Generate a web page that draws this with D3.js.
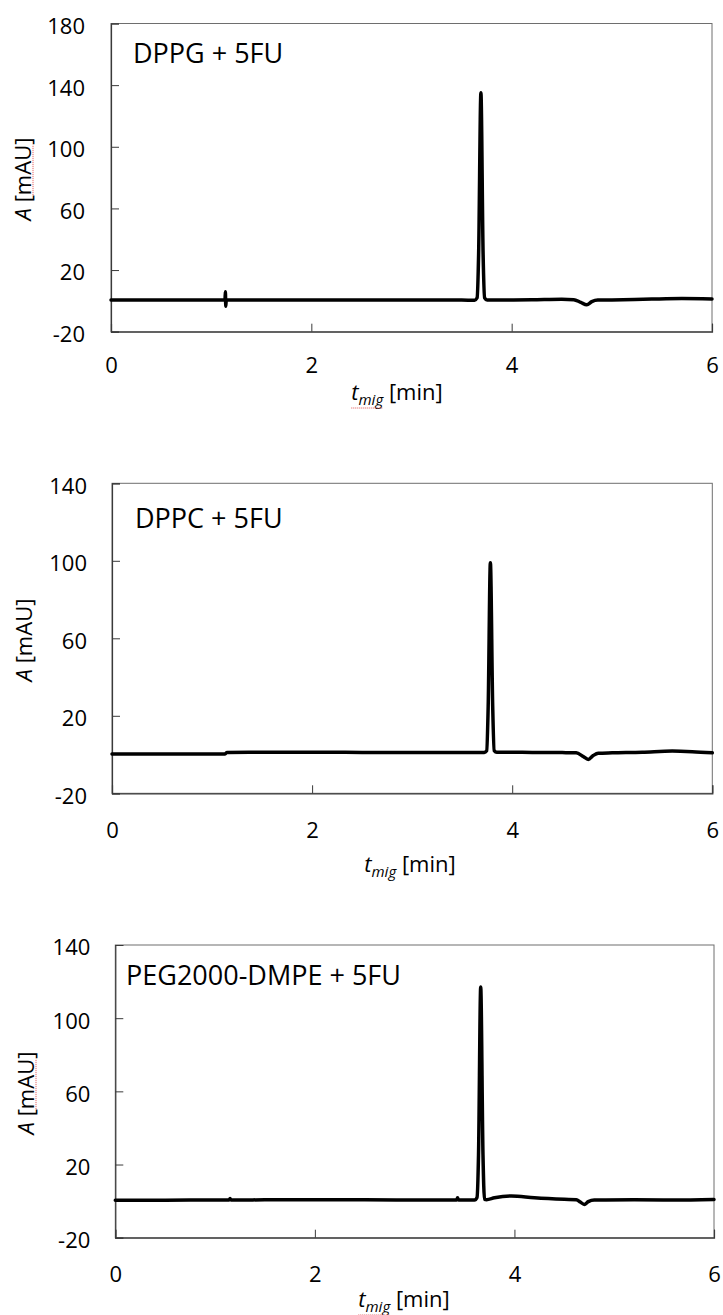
<!DOCTYPE html>
<html>
<head>
<meta charset="utf-8">
<script src="https://cdn.jsdelivr.net/npm/d3@7"></script>
<style>
  body { margin: 0; background: #fff; }
  text { font-family: "Open Sans", Lato, sans-serif; fill: #000; }
</style>
</head>
<body>
<div id="chart"></div>
<script>
// migration time [min] and absorbance [mAU]
var dppgTime = [0, 0.5, 1.0, 1.13, 1.138, 1.142, 1.146, 1.15, 1.5, 2.0, 2.5, 3.0, 3.5, 3.63, 3.655, 3.67, 3.693, 3.715, 3.73, 3.755, 3.9, 4.2, 4.5, 4.62, 4.69, 4.75, 4.8, 4.86, 5.0, 5.4, 5.7, 6.0];
var dppgAbs  = [0.5, 0.5, 0.5, 0.5, 0.5, 6, -3.5, 0.5, 0.6, 0.6, 0.6, 0.5, 0.5, 0.4, 2, 30, 135, 30, 2, 0.6, 0.6, 0.7, 1.0, 0.8, -1, -2.5, -0.5, 0.5, 0.6, 1.2, 1.5, 1.2];

var dppcTime = [0, 0.5, 1.0, 1.13, 1.15, 1.5, 2.0, 2.5, 3.0, 3.5, 3.65, 3.72, 3.745, 3.76, 3.782, 3.805, 3.82, 3.845, 3.9, 4.2, 4.5, 4.64, 4.71, 4.76, 4.81, 4.86, 5.0, 5.3, 5.6, 5.8, 6.0];
var dppcAbs  = [0.3, 0.3, 0.3, 0.3, 1.1, 1.2, 1.2, 1.1, 1.0, 1.0, 1.0, 1.1, 2, 25, 99, 25, 2, 1.2, 1.2, 1.1, 1.0, 0.9, -1, -2.5, -0.5, 0.7, 0.9, 1.2, 1.8, 1.5, 0.9];

var pegTime = [0, 0.5, 1.0, 1.14, 1.15, 1.16, 1.5, 2.0, 2.5, 3.0, 3.42, 3.43, 3.44, 3.55, 3.6, 3.625, 3.64, 3.662, 3.685, 3.70, 3.72, 3.8, 3.97, 4.2, 4.5, 4.62, 4.66, 4.70, 4.74, 4.8, 5.2, 5.6, 6.0];
var pegAbs  = [0.5, 0.5, 0.6, 0.6, 1.4, 0.6, 0.7, 0.7, 0.7, 0.6, 0.6, 1.8, 0.6, 0.6, 0.6, 2, 25, 117, 25, 1, 0.8, 1.8, 2.8, 1.8, 1.0, 0.8, -0.5, -1.8, -0.3, 0.6, 0.7, 0.6, 0.9];

var xTicks = [0, 2, 4, 6];
var yTicksTop = [-20, 20, 60, 100, 140, 180];
var yTicks = [-20, 20, 60, 100, 140];
var labels = ["DPPG + 5FU", "DPPC + 5FU", "PEG2000-DMPE + 5FU"];

var width = 723, height = 1315;

var svg = d3.select("#chart")
            .append("svg")
            .attr("width", width)
            .attr("height", height);

var panels = [
  {time: dppgTime, abs: dppgAbs, yMax: 180, ticks: yTicksTop, label: labels[0],
   left: 111, right: 712, top: 23.5, bottom: 331.7, xPad: 26, yPad: 26,
   labelX: 133, labelY: 63, xTitleX: 397, xTitleY: 400, yTitleX: 31, yTitleY: 179, squiggle: true},
  {time: dppcTime, abs: dppcAbs, yMax: 140, ticks: yTicks, label: labels[1],
   left: 112, right: 712.3, top: 483.3, bottom: 793.3, xPad: 29, yPad: 25,
   labelX: 135, labelY: 528, xTitleX: 410, xTitleY: 872, yTitleX: 32, yTitleY: 640, squiggle: false},
  {time: pegTime, abs: pegAbs, yMax: 140, ticks: yTicks, label: labels[2],
   left: 115.3, right: 714, top: 945, bottom: 1237.7, xPad: 29, yPad: 25,
   labelX: 126, labelY: 985, xTitleX: 404, xTitleY: 1307, yTitleX: 34, yTitleY: 1093, squiggle: true}
];

panels.forEach(drawPanel);

function drawPanel(p) {
  var x = d3.scaleLinear().domain([0, 6]).range([p.left, p.right]);
  var y = d3.scaleLinear().domain([-20, p.yMax]).range([p.bottom, p.top]);
  var g = svg.append("g");

  // plot area border (top/right lighter)
  g.append("rect")
   .attr("x", p.left).attr("y", p.top)
   .attr("width", p.right - p.left).attr("height", p.bottom - p.top)
   .attr("fill", "none").attr("stroke", "#6e6e6e").attr("stroke-width", 1);

  var fmt = function(d) { return String(d); }; // plain hyphen minus like the source
  var xAxis = g.append("g")
     .attr("transform", "translate(0," + p.bottom + ")")
     .call(d3.axisBottom(x).tickValues(xTicks).tickSize(-8).tickPadding(p.xPad).tickFormat(fmt));
  var yAxis = g.append("g")
     .attr("transform", "translate(" + p.left + ",0)")
     .call(d3.axisLeft(y).tickValues(p.ticks).tickSize(-8).tickPadding(p.yPad).tickFormat(fmt));

  [xAxis, yAxis].forEach(function(a) {
    a.select(".domain").attr("stroke", "#3a3a3a").attr("stroke-width", 1.2);
    a.selectAll(".tick line").attr("stroke", "#3a3a3a");
    a.selectAll(".tick text").attr("font-size", 22).attr("font-family", "Open Sans").attr("fill", "#000");
  });
  xAxis.selectAll(".tick text").attr("dy", "0.71em");
  yAxis.selectAll(".tick text").attr("dy", "0.45em");

  // the trace
  var pts = p.time.map(function(t, i) { return [t, p.abs[i]]; });
  var line = d3.line()
               .x(function(d) { return x(d[0]); })
               .y(function(d) { return y(d[1]); })
               .curve(d3.curveMonotoneX);
  g.append("path")
   .datum(pts)
   .attr("d", line)
   .attr("fill", "none")
   .attr("stroke", "#000")
   .attr("stroke-width", 3.5)
   .attr("stroke-linejoin", "round")
   .attr("stroke-linecap", "round");

  // sample label
  g.append("text")
   .attr("x", p.labelX).attr("y", p.labelY)
   .attr("font-size", 27)
   .text(p.label);

  // x title: t_mig [min]
  var xt = g.append("text")
            .attr("x", p.xTitleX).attr("y", p.xTitleY)
            .attr("text-anchor", "middle")
            .attr("font-size", 22);
  xt.append("tspan").attr("font-style", "italic").text("t");
  xt.append("tspan").attr("font-style", "italic").attr("font-size", 15).attr("dy", 5).text("mig");
  xt.append("tspan").attr("dy", -5).text(" [min]");

  // y title: A [mAU]
  var yg = g.append("g").attr("transform", "translate(" + p.yTitleX + "," + p.yTitleY + ") rotate(-90)");
  var yt = yg.append("text")
             .attr("text-anchor", "middle")
             .attr("font-size", 22);
  yt.append("tspan").attr("font-style", "italic").text("A");
  yt.append("tspan").text(" [mAU]");

  // spell-check underlines as in the source document
  if (p.squiggle) {
    var node = yt.node();
    var s = node.getStartPositionOfChar(3).x, e = node.getEndPositionOfChar(5).x;
    yg.append("line")
      .attr("x1", s).attr("x2", e).attr("y1", 2).attr("y2", 2)
      .attr("stroke", "#e05050").attr("stroke-width", 1).attr("stroke-dasharray", "1,1");
    var xn = xt.node();
    var s2 = xn.getStartPositionOfChar(0).x, e2 = xn.getEndPositionOfChar(3).x;
    g.append("line")
     .attr("x1", s2).attr("x2", e2).attr("y1", p.xTitleY + 8).attr("y2", p.xTitleY + 8)
     .attr("stroke", "#e05050").attr("stroke-width", 1).attr("stroke-dasharray", "1,1");
  }
}
</script>
</body>
</html>
